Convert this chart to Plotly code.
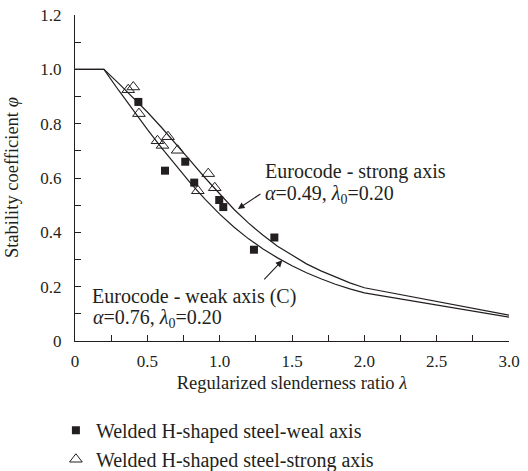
import plotly.graph_objects as go

# Eurocode buckling curves (read / tabulated values)
lam_curve = [0.0, 0.2, 0.3, 0.4, 0.5, 0.6, 0.7, 0.8, 0.9, 1.0, 1.1, 1.2, 1.3,
             1.4, 1.5, 1.6, 1.7, 1.8, 1.9, 2.0, 3.0]
phi_strong_curve = [1.0, 1.0, 0.949, 0.897, 0.843, 0.785, 0.725, 0.662, 0.600,
                    0.540, 0.484, 0.434, 0.389, 0.349, 0.315, 0.284, 0.258,
                    0.235, 0.214, 0.196, 0.095]
phi_weak_curve = [1.0, 1.0, 0.924, 0.850, 0.779, 0.710, 0.643, 0.580, 0.521,
                  0.467, 0.419, 0.376, 0.339, 0.306, 0.277, 0.251, 0.229,
                  0.209, 0.192, 0.177, 0.088]

# Test data
lam_weak = [0.438, 0.622, 0.762, 0.824, 0.997, 1.025, 1.237, 1.378]
phi_weak = [0.880, 0.627, 0.660, 0.583, 0.519, 0.493, 0.336, 0.381]

lam_strong = [0.368, 0.403, 0.442, 0.570, 0.605, 0.643, 0.709, 0.921, 0.966, 0.849]
phi_strong = [0.925, 0.935, 0.837, 0.737, 0.720, 0.752, 0.702, 0.616, 0.564, 0.553]

x_ticks = [0, 0.5, 1.0, 1.5, 2.0, 2.5, 3.0]
x_ticktext = ["0", "0.5", "1.0", "1.5", "2.0", "2.5", "3.0"]
y_ticks = [0, 0.2, 0.4, 0.6, 0.8, 1.0, 1.2]
y_ticktext = ["0", "0.2", "0.4", "0.6", "0.8", "1.0", "1.2"]

FONT = "Liberation Serif"
BLACK = "#231f20"

fig = go.Figure()
fig.add_trace(go.Scatter(x=lam_curve, y=phi_strong_curve, mode="lines",
                         line=dict(color=BLACK, width=1.2), showlegend=False))
fig.add_trace(go.Scatter(x=lam_curve, y=phi_weak_curve, mode="lines",
                         line=dict(color=BLACK, width=1.2), showlegend=False))
fig.add_trace(go.Scatter(x=lam_weak, y=phi_weak, mode="markers",
                         name="Welded H-shaped steel-weal axis", legendgroup="a",
                         marker=dict(symbol="square", size=8, color=BLACK,
                                     line=dict(width=0))))
fig.add_trace(go.Scatter(x=lam_strong, y=phi_strong, mode="markers",
                         name="Welded H-shaped steel-strong axis", legendgroup="b",
                         marker=dict(symbol="triangle-up-open", size=11, color=BLACK,
                                     line=dict(width=1, color=BLACK))))

ann_font = dict(family=FONT, size=20, color=BLACK)
ann_lines = [
    (1.305, 0.624, "Eurocode - strong axis"),
    (1.305, 0.540, "<i>α</i>=0.49, <i>λ</i><sub>0</sub>=0.20"),
    (0.110, 0.165, "Eurocode - weak axis (C)"),
    (0.117, 0.082, "<i>α</i>=0.76, <i>λ</i><sub>0</sub>=0.20"),
]
for ax_, ay_, txt in ann_lines:
    fig.add_annotation(x=ax_, y=ay_, xref="x", yref="y", xanchor="left", yanchor="middle",
                       align="left", showarrow=False, font=ann_font, text=txt,
                       borderpad=0)
# arrows
fig.add_annotation(x=1.126, y=0.486, xref="x", yref="y", text="", showarrow=True,
                   ax=24, ay=-16, arrowhead=2, arrowsize=1.2, arrowwidth=1.1,
                   arrowcolor=BLACK)
fig.add_annotation(x=1.433, y=0.297, xref="x", yref="y", text="", showarrow=True,
                   ax=-19.5, ay=20.5, arrowhead=2, arrowsize=1.2, arrowwidth=1.1,
                   arrowcolor=BLACK)
# y-axis title
fig.add_annotation(x=-0.145, y=0.5, xref="paper", yref="paper", xanchor="center",
                   yanchor="middle", textangle=-90, showarrow=False,
                   font=dict(family=FONT, size=18.5, color=BLACK),
                   text="Stability coefficient <i>φ</i>")

axis_common = dict(showline=True, linecolor=BLACK, linewidth=1.2, showgrid=False,
                   zeroline=False, ticks="inside", ticklen=6, tickcolor=BLACK,
                   tickwidth=1, tickfont=dict(family=FONT, size=17, color=BLACK),
                   mirror=False, automargin=False, ticklabeloverflow="allow")

fig.update_layout(
    width=528, height=471,
    margin=dict(l=75, r=19, t=14.5, b=129.5, autoexpand=False),
    paper_bgcolor="white", plot_bgcolor="white",
    font=dict(family=FONT, size=17, color=BLACK),
    xaxis=dict(range=[0, 3.0], tickvals=x_ticks, ticktext=x_ticktext,
               minor=dict(dtick=0.25, ticks="inside", ticklen=6, tickcolor=BLACK),
               title=dict(text="Regularized slenderness ratio <i>λ</i>",
                          font=dict(family=FONT, size=18.5, color=BLACK), standoff=6),
               ticklabelstandoff=4, **axis_common),
    yaxis=dict(range=[0, 1.2], tickvals=y_ticks, ticktext=y_ticktext,
               minor=dict(dtick=0.1, ticks="inside", ticklen=6, tickcolor=BLACK),
               ticklabelstandoff=9, **axis_common),
    legend=dict(x=-0.044, y=-0.214, xanchor="left", yanchor="top",
                font=dict(family=FONT, size=20, color=BLACK),
                tracegroupgap=0, bgcolor="rgba(0,0,0,0)", itemwidth=30),
)

fig.write_html("out.html",
               config={"displayModeBar": False},
               post_script="document.body.style.margin='0';"
                           "document.body.style.overflow='hidden';")
